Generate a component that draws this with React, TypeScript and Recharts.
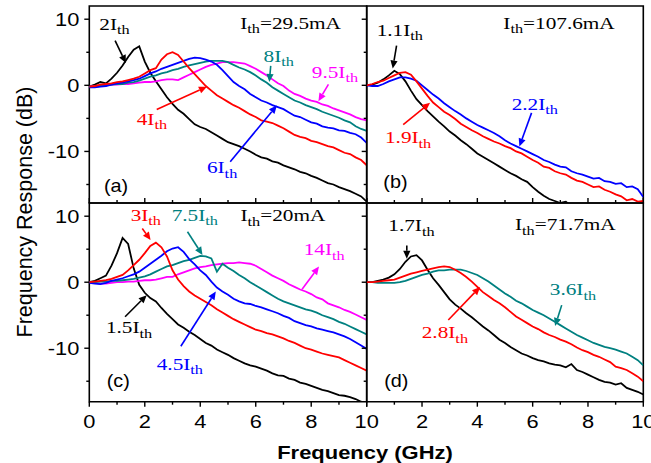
import React from 'react';
import {
  LineChart,
  Line,
  XAxis,
  YAxis,
  ReferenceArea,
  ReferenceLine,
  ReferenceDot,
} from 'recharts';

const W = 651;
const H = 463;

const SERIF = "'Liberation Serif', 'Times New Roman', serif";
const SANS = "'Liberation Sans', Arial, sans-serif";

const BLACK = '#000000';
const RED = '#ff0000';
const BLUE = '#0000ff';
const TEAL = '#008080';
const MAGENTA = '#ff00ff';

// shared frequency grid (GHz)
const freqGHz = [
  0, 0.2, 0.4, 0.6, 0.8, 1, 1.2, 1.4, 1.6, 1.8,
  2, 2.2, 2.4, 2.6, 2.8, 3, 3.2, 3.4, 3.6, 3.8,
  4, 4.2, 4.4, 4.6, 4.8, 5, 5.2, 5.4, 5.6, 5.8,
  6, 6.2, 6.4, 6.6, 6.8, 7, 7.2, 7.4, 7.6, 7.8,
  8, 8.2, 8.4, 8.6, 8.8, 9, 9.2, 9.4, 9.6, 9.8,
  10,
];
const freqTicks = [0, 1, 2, 3, 4, 5, 6, 7, 8, 9, 10];
const dbTicks = [-15, -10, -5, 0, 5, 10];

// (a) Ith = 29.5 mA
const a2Ith = [
  -0.2, 0.1, 0.5, 0.3, 1.0, 1.9, 3.0, 4.3, 5.4, 5.9,
  3.6, 1.9, 0.6, -0.6, -1.8, -2.8, -3.7, -4.3, -5.1, -5.9,
  -6.3, -6.6, -7.1, -7.6, -8.1, -8.6, -8.9, -9.2, -9.6, -10.0,
  -10.5, -10.9, -11.1, -11.5, -11.7, -12.1, -12.4, -12.7, -13.1, -13.3,
  -13.7, -14.0, -14.4, -14.8, -15.0, -15.4, -15.7, -16.0, -16.4, -16.8,
  -17.6,
];
const a4Ith = [
  -0.2, -0.1, 0.1, 0.2, 0.3, 0.5, 0.6, 0.8, 1.0, 1.3,
  1.8, 2.3, 2.6, 3.9, 4.7, 5.0, 4.6, 3.6, 2.6, 1.7,
  0.8, -0.1, -0.8, -1.5, -2.0, -2.5, -3.0, -3.4, -3.9, -4.4,
  -4.8, -5.3, -5.5, -5.7, -6.1, -6.5, -7.0, -7.5, -7.8, -8.0,
  -8.4, -8.6, -8.9, -9.2, -9.4, -9.8, -10.2, -10.4, -10.9, -11.3,
  -12.1,
];
const a6Ith = [
  -0.3, -0.3, -0.2, -0.1, 0.1, 0.3, 0.4, 0.6, 0.8, 1.0,
  1.4, 1.8, 2.1, 2.5, 2.8, 3.1, 3.4, 3.7, 4.0, 4.2,
  4.1, 3.9, 3.6, 3.1, 2.3, 1.4, 0.5, -0.1, -0.6, -1.3,
  -1.8, -2.3, -2.6, -3.0, -3.3, -3.6, -4.1, -4.6, -4.8, -5.2,
  -5.6, -5.8, -6.2, -6.4, -6.5, -6.8, -6.9, -7.2, -7.4, -7.9,
  -8.7,
];
const a8Ith = [
  -0.2, -0.2, -0.1, 0.0, 0.1, 0.2, 0.2, 0.4, 0.5, 0.7,
  1.0, 1.3, 1.5, 1.8, 2.0, 2.3, 2.5, 2.8, 3.0, 3.2,
  3.4, 3.6, 3.7, 3.7, 3.7, 3.5, 3.1, 2.7, 2.4, 2.0,
  1.5, 0.9, 0.4, -0.3, -0.8, -1.3, -1.8, -2.3, -2.6, -3.0,
  -3.3, -3.6, -4.0, -4.3, -4.6, -4.9, -5.3, -5.6, -6.2, -6.6,
  -6.9,
];
const a95Ith = [
  -0.2, -0.1, -0.1, 0.0, 0.1, 0.1, 0.2, 0.2, 0.3, 0.4,
  0.5, 0.5, 0.6, 0.8, 0.9, 0.9, 0.8, 1.2, 1.6, 2.0,
  2.4, 2.8, 3.1, 3.3, 3.5, 3.5, 3.5, 3.4, 3.3, 2.9,
  2.5, 2.0, 1.5, 0.9, 0.3, -0.1, -0.8, -1.3, -1.6, -2.0,
  -2.3, -2.5, -2.9, -3.1, -3.5, -3.8, -4.1, -4.4, -4.8, -5.1,
  -5.3,
];

// (b) Ith = 107.6 mA
const b11Ith = [
  0.0, 0.1, 0.4, 0.9, 1.5, 2.2, 1.7, 0.6, -0.8, -2.1,
  -3.0, -3.9, -4.7, -5.5, -6.2, -7.0, -7.6, -8.3, -8.9, -9.6,
  -10.3, -10.8, -11.3, -11.8, -12.3, -12.8, -13.3, -13.7, -14.2, -14.6,
  -15.4, -16.1, -16.7, -17.2, -17.5, -17.8, -17.6, -18.3, -18.6, -19.0,
  -19.3, -19.6, -19.8, -20.1, -20.3, -20.6, -20.8, -21.0, -21.2, -21.5,
  -21.8,
];
const b19Ith = [
  0.0, 0.2, 0.5, 0.7, 1.1, 1.5, 1.9, 2.0, 1.6, 0.6,
  -0.5, -1.6, -2.6, -3.3, -4.0, -4.5, -5.1, -5.8, -6.3, -6.8,
  -7.2, -7.7, -8.1, -8.5, -8.8, -9.2, -9.5, -10.0, -10.3, -10.8,
  -11.3, -11.7, -12.3, -12.5, -13.0, -13.3, -13.5, -14.0, -14.4, -14.6,
  -15.0, -15.4, -15.3, -15.8, -16.1, -16.5, -16.8, -17.4, -17.2, -17.6,
  -17.5,
];
const b22Ith = [
  0.0, -0.1, -0.1, 0.2, 0.6, 0.9, 1.2, 1.2, 1.0, 0.7,
  0.0, -0.7, -1.4, -2.0, -2.7, -3.3, -3.9, -4.4, -5.0, -5.5,
  -6.0, -6.4, -6.8, -7.2, -7.7, -8.3, -8.8, -9.2, -9.6, -10.0,
  -10.4, -10.8, -11.3, -11.6, -12.0, -12.3, -12.4, -13.0, -13.3, -13.5,
  -13.8, -14.1, -14.0, -14.5, -14.6, -14.9, -14.8, -15.4, -15.3, -15.7,
  -16.9,
];

// (c) Ith = 20 mA
const c15Ith = [
  0.0, 0.2, 0.6, 1.0, 2.5, 4.4, 6.7, 5.8, 2.1, -0.4,
  -1.6, -2.4, -2.9, -3.9, -4.8, -5.6, -6.4, -6.9, -7.5, -8.0,
  -8.6, -9.2, -9.6, -10.2, -10.6, -11.0, -11.5, -11.9, -12.3, -12.6,
  -12.8, -13.1, -13.4, -13.8, -14.1, -14.2, -14.6, -14.8, -15.2, -15.4,
  -15.7, -16.0, -16.3, -16.5, -16.8, -17.1, -17.2, -17.4, -17.7, -18.1,
  -18.4,
];
const c3Ith = [
  0.0, 0.1, 0.2, 0.3, 0.5, 0.8, 1.1, 1.8, 2.6, 3.4,
  4.4, 5.5, 6.0, 5.3, 3.9, 1.8, 0.4, -0.6, -1.4, -2.0,
  -2.5, -3.0, -3.5, -4.1, -4.6, -5.1, -5.6, -6.0, -6.4, -6.8,
  -7.2, -7.4, -7.7, -7.9, -8.2, -8.5, -8.9, -9.2, -9.6, -10.0,
  -10.2, -10.5, -10.8, -11.0, -11.2, -11.4, -11.8, -12.2, -12.6, -13.0,
  -13.4,
];
const c45Ith = [
  -0.1, -0.2, -0.3, -0.1, 0.2, 0.4, 0.6, 0.9, 1.2, 1.6,
  2.2, 2.8, 3.4, 4.0, 4.7, 5.1, 5.3, 4.6, 3.5, 2.7,
  1.8, 1.1, 0.1, -0.8, -1.4, -1.9, -2.5, -2.9, -3.2, -3.3,
  -3.6, -3.8, -4.1, -4.4, -4.7, -5.1, -5.4, -5.9, -6.2, -6.5,
  -6.7, -7.0, -7.2, -7.4, -7.6, -7.9, -8.2, -8.6, -9.1, -9.6,
  -10.1,
];
const c75Ith = [
  0.0, 0.0, 0.1, 0.1, 0.2, 0.2, 0.3, 0.4, 0.5, 0.7,
  0.9, 1.2, 1.6, 2.0, 2.4, 2.6, 2.9, 3.2, 3.4, 3.7,
  4.0, 3.9, 3.6, 1.6, 2.8, 2.2, 1.7, 1.1, 0.6, 0.0,
  -0.5, -1.0, -1.5, -2.0, -2.5, -2.9, -3.2, -3.5, -3.8, -4.1,
  -4.3, -4.6, -5.0, -5.3, -5.6, -6.0, -6.3, -6.7, -7.1, -7.5,
  -7.9,
];
const c14Ith = [
  0.0, -0.1, -0.2, -0.2, -0.1, 0.0, 0.0, 0.1, 0.1, 0.2,
  0.3, 0.3, 0.4, 0.6, 0.8, 0.8, 1.2, 1.5, 1.8, 2.1,
  2.3, 2.4, 2.6, 2.7, 2.8, 2.9, 2.9, 3.0, 2.9, 2.8,
  2.5, 2.0, 1.5, 1.0, 0.6, 0.2, -0.3, -0.7, -1.1, -1.4,
  -1.8, -2.3, -2.6, -3.2, -3.5, -3.8, -4.2, -4.5, -4.9, -5.3,
  -5.7,
];

// (d) Ith = 71.7 mA
const d17Ith = [
  0.0, 0.0, 0.2, 0.4, 0.7, 1.2, 2.0, 3.1, 3.9, 4.1,
  3.3, 1.9, 0.6, -0.4, -1.5, -2.6, -3.4, -4.0, -4.7, -5.3,
  -6.0, -6.7, -7.3, -8.0, -8.7, -9.2, -9.8, -10.3, -10.8, -11.1,
  -11.5, -11.8, -12.0, -12.3, -12.5, -12.6, -12.9, -12.4, -13.3, -13.6,
  -14.0, -14.4, -14.8, -15.1, -15.2, -15.5, -15.3, -16.0, -16.3, -16.6,
  -17.0,
];
const d28Ith = [
  0.0, 0.0, 0.1, 0.2, 0.3, 0.4, 0.7, 1.0, 1.3, 1.5,
  1.7, 1.9, 2.1, 2.3, 2.4, 2.3, 1.9, 1.4, 0.8, 0.1,
  -0.7, -1.5, -2.1, -2.7, -3.2, -3.8, -4.5, -5.2, -5.7, -6.2,
  -6.7, -7.1, -7.6, -8.0, -8.3, -8.7, -9.0, -9.4, -9.9, -10.3,
  -10.6, -11.0, -11.3, -11.7, -12.1, -12.8, -13.0, -13.3, -13.8, -14.3,
  -15.0,
];
const d36Ith = [
  0.0, 0.0, -0.1, -0.1, -0.1, -0.1, 0.0, 0.2, 0.5, 0.8,
  1.1, 1.3, 1.6, 1.8, 1.8, 1.9, 1.9, 1.9, 1.7, 1.4,
  1.1, 0.6, 0.1, -0.5, -1.1, -1.7, -2.2, -2.8, -3.2, -3.7,
  -4.2, -4.6, -5.0, -5.5, -6.0, -6.5, -7.0, -7.5, -8.0, -8.4,
  -8.8, -9.2, -9.5, -9.8, -10.0, -10.2, -10.5, -10.8, -11.3, -11.8,
  -12.6,
];

type Curve = { name: string; values: number[]; color: string };
type Note = { f: number; db: number; text: string; tail?: string; color: string };
type Arrow = { from: [number, number]; to: [number, number]; color: string };

type PanelProps = {
  tag: string;
  tagAt: [number, number];
  curves: Curve[];
  notes: Note[];
  arrows: Arrow[];
  yDomain: [number, number];
  margin: { top: number; right: number; bottom: number; left: number };
  bottomRow: boolean;
  leftCol: boolean;
};

const FreqTick = (props: any) => {
  const { x, y, payload, bottomRow, leftCol } = props;
  const v = payload.value;
  const major = v % 2 === 0;
  const len = major ? 5 : 3;
  const y2 = bottomRow ? y + len : y - len;
  const showLabel = bottomRow && major && (leftCol || v !== 0);
  return (
    <g>
      <line x1={x} y1={y} x2={x} y2={y2} stroke="#000" strokeWidth={1.4} />
      {showLabel && (
        <text
          transform={`translate(${x},${y + 26.5}) scale(1.15,1)`}
          textAnchor="middle"
          fontSize={19}
          fontFamily={SANS}
          fill="#000"
        >
          {v}
        </text>
      )}
    </g>
  );
};

const DbTick = (props: any) => {
  const { x, y, payload, leftCol } = props;
  const v = payload.value;
  const major = v % 10 === 0;
  const len = major ? 5 : 3;
  return (
    <g>
      <line x1={x} y1={y} x2={x - len} y2={y} stroke="#000" strokeWidth={1.4} />
      {leftCol && major && (
        <text
          transform={`translate(${x - 10},${y + 6.8}) scale(1.15,1)`}
          textAnchor="end"
          fontSize={19}
          fontFamily={SANS}
          fill="#000"
        >
          {v}
        </text>
      )}
    </g>
  );
};

// arrow with a filled head at the "to" end
const arrowShape = (color: string) => (props: any) => {
  const { x1, y1, x2, y2 } = props;
  const ang = Math.atan2(y2 - y1, x2 - x1);
  const len = 8;
  const half = 3.6;
  const bx = x2 - len * Math.cos(ang);
  const by = y2 - len * Math.sin(ang);
  const px = half * Math.sin(ang);
  const py = half * Math.cos(ang);
  return (
    <g>
      <line x1={x1} y1={y1} x2={bx} y2={by} stroke={color} strokeWidth={1.6} />
      <polygon points={`${x2},${y2} ${bx - px},${by + py} ${bx + px},${by - py}`} fill={color} />
    </g>
  );
};

const noteShape = (n: Note) => (props: any) => (
  <text
    transform={`translate(${props.cx},${props.cy}) scale(1.25,1)`}
    fill={n.color}
    fontFamily={SERIF}
    fontSize={17}
  >
    {n.text}
    <tspan fontSize={13} dy={4.5}>th</tspan>
    {n.tail && <tspan dy={-4.5}>{n.tail}</tspan>}
  </text>
);

const tagShape = (tag: string) => (props: any) => (
  <text
    transform={`translate(${props.cx},${props.cy}) scale(1.1,1)`}
    fill="#000"
    fontFamily={SANS}
    fontSize={18}
  >
    {tag}
  </text>
);

const Panel: React.FC<PanelProps> = ({
  tag,
  tagAt,
  curves,
  notes,
  arrows,
  yDomain,
  margin,
  bottomRow,
  leftCol,
}) => {
  const rows = freqGHz.map((f, i) => {
    const row: Record<string, number> = { f };
    curves.forEach((c) => {
      row[c.name] = c.values[i];
    });
    return row;
  });

  // axes take 1px each, so the plot box lands on the margins given
  const chartMargin = {
    top: margin.top,
    right: margin.right,
    bottom: margin.bottom - 1,
    left: margin.left - 1,
  };

  return (
    <div style={{ position: 'absolute', left: 0, top: 0 }}>
      <LineChart width={W} height={H} data={rows} margin={chartMargin}>
        <XAxis
          dataKey="f"
          type="number"
          domain={[0, 10]}
          ticks={freqTicks}
          interval={0}
          height={1}
          tickSize={0}
          tickMargin={0}
          axisLine={false}
          tickLine={false}
          allowDataOverflow
          tick={(p: any) => <FreqTick {...p} bottomRow={bottomRow} leftCol={leftCol} />}
        />
        <YAxis
          type="number"
          domain={yDomain}
          ticks={dbTicks}
          interval={0}
          width={1}
          tickSize={0}
          tickMargin={0}
          axisLine={false}
          tickLine={false}
          allowDataOverflow
          tick={(p: any) => <DbTick {...p} leftCol={leftCol} />}
        />
        <ReferenceArea
          x1={0}
          x2={10}
          y1={yDomain[0]}
          y2={yDomain[1]}
          stroke="#000"
          strokeWidth={1.6}
          fill="none"
          ifOverflow="visible"
        />
        {curves.map((c) => (
          <Line
            key={c.name}
            type="linear"
            dataKey={c.name}
            stroke={c.color}
            strokeWidth={1.8}
            dot={false}
            activeDot={false}
            isAnimationActive={false}
          />
        ))}
        {arrows.map((a, i) => (
          <ReferenceLine
            key={`arrow-${i}`}
            segment={[
              { x: a.from[0], y: a.from[1] },
              { x: a.to[0], y: a.to[1] },
            ]}
            ifOverflow="visible"
            shape={arrowShape(a.color)}
          />
        ))}
        {notes.map((n, i) => (
          <ReferenceDot
            key={`note-${i}`}
            x={n.f}
            y={n.db}
            r={0}
            ifOverflow="visible"
            shape={noteShape(n)}
          />
        ))}
        <ReferenceDot x={tagAt[0]} y={tagAt[1]} r={0} ifOverflow="visible" shape={tagShape(tag)} />
      </LineChart>
    </div>
  );
};

const topDomain: [number, number] = [-17.8, 12];
const bottomDomain: [number, number] = [-18.1, 12];

export default function App() {
  return (
    <div style={{ position: 'absolute', left: 0, top: 0, width: W, height: H, background: '#fff' }}>
      <Panel
        tag="(a)"
        tagAt={[0.53, -16.1]}
        yDomain={topDomain}
        margin={{ top: 6, right: 284.3, bottom: 260, left: 89.3 }}
        bottomRow={false}
        leftCol
        curves={[
          { name: 'i2', values: a2Ith, color: BLACK },
          { name: 'i95', values: a95Ith, color: MAGENTA },
          { name: 'i8', values: a8Ith, color: TEAL },
          { name: 'i6', values: a6Ith, color: BLUE },
          { name: 'i4', values: a4Ith, color: RED },
        ]}
        notes={[
          { f: 0.36, db: 8.44, text: '2I', color: BLACK },
          { f: 5.44, db: 8.55, text: 'I', tail: '=29.5mA', color: BLACK },
          { f: 6.28, db: 3.56, text: '8I', color: TEAL },
          { f: 8.02, db: 1.18, text: '9.5I', color: MAGENTA },
          { f: 1.71, db: -5.95, text: '4I', color: RED },
          { f: 4.24, db: -13.33, text: '6I', color: BLUE },
        ]}
        arrows={[
          { from: [0.93, 6.76], to: [1.32, 3.36], color: BLACK },
          { from: [6.54, 2.95], to: [6.49, 0.5], color: TEAL },
          { from: [8.62, 0.15], to: [8.26, -2.4], color: MAGENTA },
          { from: [2.43, -3.66], to: [4.24, -0.2], color: RED },
          { from: [5.08, -11.56], to: [6.76, -3.05], color: BLUE },
        ]}
      />
      <Panel
        tag="(b)"
        tagAt={[0.6, -15.6]}
        yDomain={topDomain}
        margin={{ top: 6, right: 7.7, bottom: 260, left: 366.7 }}
        bottomRow={false}
        leftCol={false}
        curves={[
          { name: 'i11', values: b11Ith, color: BLACK },
          { name: 'i22', values: b22Ith, color: BLUE },
          { name: 'i19', values: b19Ith, color: RED },
        ]}
        notes={[
          { f: 0.36, db: 7.53, text: '1.1I', color: BLACK },
          { f: 4.94, db: 8.55, text: 'I', tail: '=107.6mA', color: BLACK },
          { f: 5.24, db: -3.66, text: '2.2I', color: BLUE },
          { f: 0.66, db: -8.75, text: '1.9I', color: RED },
        ]}
        arrows={[
          { from: [1.08, 6.0], to: [0.94, 2.55], color: BLACK },
          { from: [5.96, -4.17], to: [5.52, -9.27], color: BLUE },
          { from: [1.32, -5.95], to: [2.29, -2.64], color: RED },
        ]}
      />
      <Panel
        tag="(c)"
        tagAt={[0.63, -15.8]}
        yDomain={bottomDomain}
        margin={{ top: 203, right: 284.3, bottom: 61.3, left: 89.3 }}
        bottomRow
        leftCol
        curves={[
          { name: 'i15', values: c15Ith, color: BLACK },
          { name: 'i14', values: c14Ith, color: MAGENTA },
          { name: 'i75', values: c75Ith, color: TEAL },
          { name: 'i45', values: c45Ith, color: BLUE },
          { name: 'i3', values: c3Ith, color: RED },
        ]}
        notes={[
          { f: 1.49, db: 9.28, text: '3I', color: RED },
          { f: 2.97, db: 9.28, text: '7.5I', color: TEAL },
          { f: 5.45, db: 9.2, text: 'I', tail: '=20mA', color: BLACK },
          { f: 7.73, db: 4.12, text: '14I', color: MAGENTA },
          { f: 0.6, db: -7.74, text: '1.5I', color: BLACK },
          { f: 2.43, db: -13.27, text: '4.5I', color: BLUE },
        ]}
        arrows={[
          { from: [1.91, 8.14], to: [2.21, 6.38], color: RED },
          { from: [3.54, 7.65], to: [4.08, 4.12], color: TEAL },
          { from: [7.67, -1.06], to: [8.28, 2.37], color: MAGENTA },
          { from: [1.29, -5.23], to: [2.07, -1.96], color: BLACK },
          { from: [3.3, -9.7], to: [4.56, -1.4], color: BLUE },
        ]}
      />
      <Panel
        tag="(d)"
        tagAt={[0.63, -15.8]}
        yDomain={bottomDomain}
        margin={{ top: 203, right: 7.7, bottom: 61.3, left: 366.7 }}
        bottomRow
        leftCol={false}
        curves={[
          { name: 'i17', values: d17Ith, color: BLACK },
          { name: 'i36', values: d36Ith, color: TEAL },
          { name: 'i28', values: d28Ith, color: RED },
        ]}
        notes={[
          { f: 0.78, db: 7.69, text: '1.7I', color: BLACK },
          { f: 5.36, db: 7.84, text: 'I', tail: '=71.7mA', color: BLACK },
          { f: 6.62, db: -1.96, text: '3.6I', color: TEAL },
          { f: 1.99, db: -8.49, text: '2.8I', color: RED },
        ]}
        arrows={[
          { from: [1.45, 5.58], to: [1.45, 3.57], color: BLACK },
          { from: [7.05, -3.47], to: [6.81, -6.64], color: TEAL },
          { from: [2.95, -5.73], to: [4.1, -0.71], color: RED },
        ]}
      />
      <svg
        width={W}
        height={H}
        style={{ position: 'absolute', left: 0, top: 0, pointerEvents: 'none' }}
      >
        <text
          transform="translate(32,212) rotate(-90)"
          textAnchor="middle"
          fontSize={21.5}
          fontFamily={SANS}
          fill="#000"
        >
          Frequency Response (dB)
        </text>
        <text
          transform="translate(365,459) scale(1.22,1)"
          textAnchor="middle"
          fontSize={18}
          fontWeight="bold"
          fontFamily={SANS}
          fill="#000"
        >
          Frequency (GHz)
        </text>
      </svg>
    </div>
  );
}
